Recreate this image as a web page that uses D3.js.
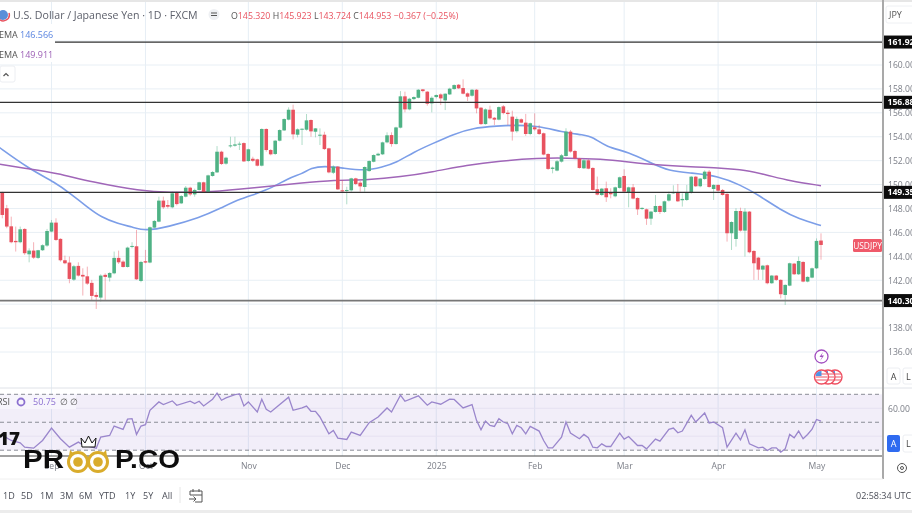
<!DOCTYPE html>
<html>
<head>
<meta charset="utf-8">
<script src="https://cdn.jsdelivr.net/npm/d3@7"></script>
<style>
html, body { margin: 0; padding: 0; background: #fff; overflow: hidden; }
svg { display: block; filter: blur(0.6px); }
text { font-family: "Open Sans", "Noto Sans", sans-serif; }
.axis path, .axis line { display: none; }
</style>
</head>
<body>
<div id="chart"></div>
<script>
const opens = [
  149.36,148.02,146.51,145.29,145.18,146.29,144.17,144.48,143.87,144.51,
  144.90,146.07,146.82,145.46,143.67,143.48,142.05,143.20,142.45,142.33,
  141.78,140.77,140.55,142.45,142.22,142.58,143.87,143.56,143.11,144.79,
  144.84,141.94,143.59,143.48,146.40,146.90,148.66,148.29,148.10,149.32,
  148.43,148.99,149.74,149.18,149.55,150.19,149.35,150.72,151.02,152.75,
  151.75,153.20,153.25,153.34,153.47,151.97,152.16,152.11,151.58,154.65,
  152.89,152.56,153.67,154.53,155.43,156.26,154.17,154.59,154.59,155.40,
  154.42,154.09,154.17,153.03,150.99,151.50,149.52,149.46,149.52,150.52,
  150.16,149.80,151.13,151.91,152.44,152.53,153.53,154.14,153.39,154.76,
  157.38,156.29,157.15,157.26,157.96,157.77,156.79,157.32,157.54,157.04,
  157.54,157.99,158.35,158.07,157.63,157.43,157.93,156.43,155.06,156.26,
  155.59,155.43,156.54,156.01,155.68,154.46,155.46,155.18,154.23,154.79,
  154.62,154.29,152.56,151.31,151.17,151.92,152.39,154.43,152.81,152.17,
  151.36,152.03,151.39,149.61,149.13,149.69,149.30,149.02,149.72,150.72,
  149.38,149.77,148.88,147.96,147.93,147.15,147.71,148.21,147.71,148.66,
  149.27,149.33,148.69,148.71,149.30,150.66,149.86,150.47,151.08,149.63,
  149.97,149.55,149.22,145.93,145.45,147.79,146.15,147.74,144.45,143.89,
  142.89,143.25,141.75,142.39,142.03,140.77,141.55,143.39,142.50,143.53,
  141.89,142.22,143.00,145.32
];
const highs = [
  149.40,148.30,147.32,146.49,146.49,146.35,144.67,145.18,144.54,145.01,
  146.29,147.04,147.18,145.51,144.06,143.98,143.28,143.50,143.00,143.14,
  142.03,141.00,142.50,142.58,142.67,144.40,144.48,143.67,144.81,145.18,
  146.21,143.62,144.54,146.49,147.04,148.99,148.99,148.71,149.41,149.41,
  149.13,149.88,149.82,149.66,150.24,150.24,150.83,151.13,153.22,152.83,
  152.33,154.00,154.00,153.59,153.53,153.00,152.33,152.16,154.70,154.70,
  152.97,153.73,154.62,155.54,156.46,156.68,154.70,154.70,155.90,155.45,
  154.73,154.70,154.42,153.08,151.61,151.55,150.38,149.82,150.57,150.57,
  150.30,151.52,152.03,152.53,152.67,153.59,154.37,154.37,154.84,157.82,
  157.77,157.26,157.38,157.99,157.99,157.82,157.38,157.54,157.63,157.63,
  158.10,158.38,158.41,158.80,157.71,157.99,157.99,156.48,156.37,156.60,
  155.65,156.54,156.65,156.23,156.18,155.68,155.54,155.91,155.18,155.96,
  154.99,154.35,152.62,151.50,152.06,152.56,154.71,154.57,152.90,152.23,
  152.12,152.12,151.45,150.67,149.72,150.25,149.69,149.83,150.67,151.28,
  149.83,150.05,148.94,148.10,147.99,147.80,149.13,148.27,148.66,149.41,
  149.94,150.05,149.27,149.97,150.72,150.72,150.55,151.19,151.22,150.02,
  150.02,149.63,149.27,146.93,148.02,148.07,148.02,147.79,144.51,143.95,
  143.28,143.31,142.44,142.44,142.08,141.66,143.47,143.45,143.98,143.59,
  142.33,143.06,145.50,145.92
];
const lows = [
  147.18,146.35,145.09,144.40,145.09,144.12,143.50,143.78,143.78,144.45,
  144.79,146.01,145.29,143.56,143.34,141.75,141.94,142.31,140.72,141.61,
  140.35,139.60,140.22,140.35,141.89,142.50,143.36,143.06,143.06,144.67,
  142.03,141.83,143.42,143.42,146.35,146.85,147.96,148.01,148.01,148.26,
  148.37,148.93,149.04,148.99,149.49,149.32,149.32,150.66,150.97,151.64,
  151.66,153.08,153.17,152.89,151.89,151.91,151.89,151.52,151.52,152.75,
  152.44,152.47,153.61,154.48,155.37,153.78,153.95,153.31,154.51,154.00,
  153.95,153.31,152.89,150.94,150.88,149.55,149.35,148.35,149.41,149.96,
  149.41,149.41,151.08,151.86,152.39,152.47,153.45,153.17,153.34,154.70,
  156.04,156.21,157.07,157.21,157.71,156.60,156.04,157.21,156.65,156.23,
  157.49,157.93,157.99,157.54,156.99,157.35,155.96,154.98,155.01,155.45,
  154.98,155.37,155.87,154.98,153.68,154.34,155.13,154.07,154.12,154.51,
  154.15,152.45,151.22,150.94,151.11,151.84,152.34,152.67,152.12,151.33,
  151.31,151.28,149.50,149.10,149.05,148.55,148.85,148.94,149.66,149.33,
  148.10,148.77,147.46,147.88,146.63,146.63,147.66,147.54,147.63,148.58,
  149.22,148.55,148.16,148.63,149.24,149.80,149.77,150.39,149.74,148.71,
  149.41,149.08,145.23,144.53,144.81,146.07,143.98,144.25,142.03,142.03,
  142.03,141.66,141.69,141.94,140.49,139.93,141.50,142.44,142.44,141.83,
  141.83,142.16,142.94,143.72
];
const closes = [
  147.46,146.49,145.18,145.18,146.26,144.26,144.48,143.89,144.51,144.93,
  146.12,146.82,145.37,143.67,143.42,142.11,143.17,142.39,142.31,141.72,
  140.69,140.61,142.39,142.28,142.61,143.87,143.50,143.11,144.73,144.87,
  142.08,143.53,143.48,146.43,146.96,148.66,148.10,148.15,149.27,148.37,
  149.04,149.74,149.18,149.55,150.19,149.35,150.77,151.05,152.75,151.72,
  152.25,153.28,153.36,153.42,151.94,152.95,151.99,151.58,154.65,152.89,
  152.53,153.67,154.56,155.48,156.26,154.20,154.62,154.67,155.37,154.45,
  154.70,154.17,152.97,151.02,151.50,149.60,149.43,149.55,150.52,150.05,
  149.85,151.47,151.97,152.47,152.58,153.53,154.12,153.39,154.78,157.38,
  156.29,157.18,157.32,157.93,157.82,156.76,157.26,157.49,157.21,157.60,
  158.02,158.32,158.05,157.60,157.35,157.93,156.37,155.06,156.29,155.54,
  155.43,156.48,155.98,155.90,154.43,155.49,155.18,154.23,155.13,154.62,
  154.23,152.51,151.31,151.42,151.95,152.45,154.43,152.76,152.20,151.39,
  152.03,151.33,149.55,149.16,149.66,148.94,149.19,149.77,150.61,149.41,
  149.77,148.83,147.93,148.05,147.15,147.74,148.21,147.71,148.60,149.19,
  149.38,148.60,148.80,149.33,150.66,149.86,150.50,151.08,149.80,149.97,
  149.49,149.13,145.93,146.87,147.79,146.15,147.74,144.34,143.42,142.89,
  143.22,141.75,142.39,142.03,140.83,141.61,143.42,142.50,143.61,141.89,
  142.28,143.00,145.29,144.95
];

// ema readings, candle index and price
const ema50Idx = [-1,6,12,15,19,22,26,29,32,37,44,49,53,59,64,67,69,72,76,81,85,88,92,96,101,105,111,114,120,125,130,132,135,140,145,149,154,160,165,169,174,178,183];
const ema50Vals = [153.2,151.31,150.14,149.30,148.13,147.29,146.71,146.46,146.12,146.46,147.21,148.05,148.80,149.47,150.55,150.89,151.39,151.56,151.39,151.14,151.47,151.81,152.73,153.40,154.23,154.73,154.90,154.98,154.90,154.40,154.15,153.98,153.14,152.73,151.81,151.14,150.97,150.72,149.97,149.13,147.88,147.13,146.57];
const ema100Idx = [-1,6,12,20,31,37,47,56,67,74,82,89,96,104,111,120,126,134,140,146,154,161,166,171,176,183];
const ema100Vals = [151.72,151.31,150.97,150.22,149.47,149.32,149.38,149.72,150.14,150.39,150.39,150.64,151.05,151.64,151.97,152.22,152.22,152.14,151.89,151.64,151.47,151.39,151.22,150.80,150.30,149.91];

const rsiIdx = [0,2,4,5,7,9,11,13,15,17,18,21,22,24,25,27,28,29,30,31,32,33,35,36,38,39,42,43,44,45,47,48,49,50,52,53,54,55,57,58,59,60,64,65,67,68,69,70,71,73,74,75,77,78,80,82,84,86,87,89,90,93,95,96,98,100,101,103,105,106,107,108,109,110,111,112,113,114,115,116,117,118,120,121,122,123,125,126,127,129,130,131,132,133,134,135,136,138,139,140,142,143,144,146,147,149,150,151,152,154,155,157,158,159,161,162,164,165,166,167,169,170,171,172,173,174,175,176,177,178,179,180,181,182,183];
const rsiVals = [40.58,36.98,35.3,32.19,31.47,36.98,45.86,38.18,32.19,35.78,33.87,31.47,39.38,40.58,47.29,44.9,52.2,52.57,41.3,47.3,48.25,58.57,64.56,62.64,65.28,62.16,65.04,63.36,65.04,61.68,66.48,70.79,65.76,67.44,69.84,70.32,61.68,64.56,57.37,66.48,59.28,57.37,67.92,58.57,60.3,61.6,57.85,57.85,53.77,41.78,44.18,38.66,37.7,42.98,40.58,49.7,53.77,60.24,57.37,69.36,65.04,68.88,62.16,64.56,62.88,66.48,66.3,60.22,62.62,51.35,44.63,50.87,47.75,47.03,52.55,50.15,48.95,41.76,47.75,46.07,41.76,47.03,43.67,36.96,31.68,31.68,39.36,50.15,42.24,38.16,41.28,38.88,32.16,31.68,34.56,32.64,32.64,42.24,37.92,39.84,33.36,33.36,30.96,37.92,36.48,44.87,45.83,42.48,43.67,54.95,50.15,56.62,49.43,50.15,46.07,32.16,42.24,37.44,44.63,34.56,31.68,32.16,29.77,31.68,31.68,28.57,30.96,41.28,38.88,43.67,38.16,41.28,45.0,52.0,50.75];

const monthIdx = [11,32,55,76,97,119,139,160,182];
const monthLabels = ["Sep","Oct","Nov","Dec","2025","Feb","Mar","Apr","May"];
const priceTicks = [136,138,142,144,146,148,150,152,154,156,158,160];
const levels = [161.92,156.88,149.35,140.30];
const rsiLevels = [70,50,30];
const ranges = ["1D","5D","1M","3M","6M","YTD","1Y","5Y","All"];

const WIDTH = 912, HEIGHT = 513;
const PANE_RIGHT = 883;
const MAIN_BOTTOM = 388, RSI_BOTTOM = 456, AXIS_BOTTOM = 479;
const UP = "#4fb285", DOWN = "#e8525f";

const x = d3.scaleLinear().domain([0, 183]).range([2.3, 821]);
const y = d3.scaleLinear().domain([136, 160]).range([352, 65]);
const yRsi = d3.scaleLinear().domain([30, 70]).range([450.2, 394.3]);

const svg = d3.select("#chart").append("svg")
  .attr("width", WIDTH)
  .attr("height", HEIGHT);

svg.append("rect").attr("width", WIDTH).attr("height", HEIGHT).attr("fill", "#fff");
svg.append("rect").attr("width", WIDTH).attr("height", 2).attr("fill", "#e6e6e6");
svg.append("rect").attr("y", 510).attr("width", WIDTH).attr("height", 3).attr("fill", "#ececec");

// grid
svg.append("g").selectAll("line")
  .data(monthIdx)
  .enter().append("line")
  .attr("x1", d => x(d)).attr("x2", d => x(d))
  .attr("y1", 2).attr("y2", RSI_BOTTOM)
  .attr("stroke", "#e6eef5");

svg.append("g").selectAll("line")
  .data(d3.range(136, 164, 2))
  .enter().append("line")
  .attr("x1", 0).attr("x2", PANE_RIGHT)
  .attr("y1", d => y(d)).attr("y2", d => y(d))
  .attr("stroke", "#e8eff5");

// rsi pane
svg.append("rect")
  .attr("x", 0).attr("width", PANE_RIGHT)
  .attr("y", yRsi(70)).attr("height", yRsi(30) - yRsi(70))
  .attr("fill", "#7e57c2").attr("opacity", 0.1);

svg.append("g").selectAll("line")
  .data([60, 40])
  .enter().append("line")
  .attr("x1", 0).attr("x2", PANE_RIGHT)
  .attr("y1", d => yRsi(d)).attr("y2", d => yRsi(d))
  .attr("stroke", "#e6e2f1");

svg.append("g").selectAll("line")
  .data(rsiLevels)
  .enter().append("line")
  .attr("x1", 0).attr("x2", PANE_RIGHT)
  .attr("y1", d => yRsi(d)).attr("y2", d => yRsi(d))
  .attr("stroke", "#8a8d96")
  .attr("stroke-dasharray", "4,3");

const rsiLine = d3.line()
  .x((d, i) => x(rsiIdx[i]))
  .y(d => yRsi(d));

svg.append("path")
  .attr("d", rsiLine(rsiVals))
  .attr("fill", "none")
  .attr("stroke", "#9a86cc")
  .attr("stroke-width", 1.3);

// ema lines, under the candles
const emaLine = idx => d3.line()
  .x((d, i) => x(idx[i]))
  .y(d => y(d))
  .curve(d3.curveBasis);

svg.append("path")
  .attr("d", emaLine(ema50Idx)(ema50Vals))
  .attr("fill", "none").attr("stroke", "#7c9ee8").attr("stroke-width", 1.6);

svg.append("path")
  .attr("d", emaLine(ema100Idx)(ema100Vals))
  .attr("fill", "none").attr("stroke", "#a066b8").attr("stroke-width", 1.5);

// candles
const candleColor = i => closes[i] >= opens[i] ? UP : DOWN;

svg.append("g").selectAll("line")
  .data(d3.range(opens.length))
  .enter().append("line")
  .attr("x1", d => x(d)).attr("x2", d => x(d))
  .attr("y1", d => y(highs[d])).attr("y2", d => y(lows[d]))
  .attr("stroke", candleColor)
  .attr("stroke-opacity", 0.45);

svg.append("g").selectAll("rect")
  .data(d3.range(opens.length))
  .enter().append("rect")
  .attr("x", d => x(d) - 1.8)
  .attr("width", 3.6)
  .attr("y", d => y(Math.max(opens[d], closes[d])))
  .attr("height", d => Math.max(1, Math.abs(y(opens[d]) - y(closes[d]))))
  .attr("fill", candleColor);

// horizontal levels
svg.append("g").selectAll("line")
  .data(levels)
  .enter().append("line")
  .attr("x1", 0).attr("x2", PANE_RIGHT)
  .attr("y1", d => y(d)).attr("y2", d => y(d))
  .attr("stroke", d => d === 140.30 ? "#777" : "#333")
  .attr("stroke-width", d => d === 140.30 ? 1.6 : 1.3);

// legend
svg.append("rect").attr("x", 0).attr("y", 24).attr("width", 55).attr("height", 38).attr("fill", "#fff");
svg.append("rect").attr("x", 0).attr("y", 66).attr("width", 15).attr("height", 16).attr("rx", 2)
  .attr("fill", "#fff").attr("stroke", "#eceef2");
svg.append("path").attr("d", "M3.5 76 L6 73.5 L8.5 76").attr("fill", "none").attr("stroke", "#555").attr("stroke-width", 1.2);

svg.append("circle").attr("cx", 3).attr("cy", 15).attr("r", 5).attr("fill", "#5b8fd9");
svg.append("path").attr("d", "M-1 19 A6 6 0 0 0 9 13").attr("fill", "none").attr("stroke", "#e8525f").attr("stroke-width", 1.5);

svg.append("text").attr("x", 13).attr("y", 19).attr("font-size", 10.6).attr("fill", "#5d606b")
  .text("U.S. Dollar / Japanese Yen · 1D · FXCM");
svg.append("circle").attr("cx", 214).attr("cy", 14.5).attr("r", 5.5).attr("fill", "#eef0f3");
svg.append("rect").attr("x", 211).attr("y", 12.5).attr("width", 6).attr("height", 1).attr("fill", "#555");
svg.append("rect").attr("x", 211).attr("y", 15).attr("width", 6).attr("height", 1).attr("fill", "#555");

const ohlc = [["O", "145.320"], ["H", "145.923"], ["L", "143.724"], ["C", "144.953"]];
const ohlcText = svg.append("text").attr("x", 231).attr("y", 18.5).attr("font-size", 8.8).attr("fill", DOWN);
ohlc.forEach(d => {
  ohlcText.append("tspan").attr("fill", "#555").text(d[0]);
  ohlcText.append("tspan").text(d[1] + " ");
});
ohlcText.append("tspan").text("−0.367 (−0.25%)");

svg.append("text").attr("x", -1).attr("y", 38).attr("font-size", 9).attr("fill", "#555").text("EMA");
svg.append("text").attr("x", 20).attr("y", 38).attr("font-size", 9).attr("fill", "#5b85e0").text("146.566");
svg.append("text").attr("x", -1).attr("y", 58).attr("font-size", 9).attr("fill", "#555").text("EMA");
svg.append("text").attr("x", 20).attr("y", 58).attr("font-size", 9).attr("fill", "#9c5fb5").text("149.911");

// pane borders
svg.append("line").attr("x1", 0).attr("x2", WIDTH).attr("y1", MAIN_BOTTOM).attr("y2", MAIN_BOTTOM).attr("stroke", "#dfe2e8");
svg.append("line").attr("x1", 0).attr("x2", PANE_RIGHT).attr("y1", RSI_BOTTOM).attr("y2", RSI_BOTTOM).attr("stroke", "#444");
svg.append("line").attr("x1", PANE_RIGHT).attr("x2", PANE_RIGHT).attr("y1", 0).attr("y2", AXIS_BOTTOM)
  .attr("stroke", "#a9a9a9").attr("stroke-width", 2);
svg.append("line").attr("x1", 0).attr("x2", PANE_RIGHT).attr("y1", AXIS_BOTTOM).attr("y2", AXIS_BOTTOM).attr("stroke", "#f0f0f0");

// axes
const priceAxis = d3.axisRight(y).tickValues(priceTicks).tickFormat(d3.format(".2f")).tickSize(0).tickPadding(0);
svg.append("g").attr("class", "axis")
  .attr("transform", "translate(888,0)")
  .call(priceAxis)
  .selectAll("text").attr("font-size", 8.6).attr("fill", "#7b7e87");

const rsiAxis = d3.axisRight(yRsi).tickValues([60]).tickFormat(d3.format(".2f")).tickSize(0).tickPadding(0);
svg.append("g").attr("class", "axis")
  .attr("transform", "translate(888,0)")
  .call(rsiAxis)
  .selectAll("text").attr("font-size", 8.6).attr("fill", "#7b7e87");

const timeAxis = d3.axisBottom(x).tickValues(monthIdx).tickFormat((d, i) => monthLabels[i]).tickSize(0).tickPadding(0);
svg.append("g").attr("class", "axis")
  .attr("transform", "translate(0,463)")
  .call(timeAxis)
  .selectAll("text").attr("font-size", 8.6).attr("fill", "#7b7e87");

// level tags on the price axis
const tags = svg.append("g").selectAll("g")
  .data(levels)
  .enter().append("g")
  .attr("transform", d => `translate(884,${y(d)})`);
tags.append("rect").attr("x", 0).attr("y", -6.5).attr("width", 28).attr("height", 13).attr("fill", "#0b0b0b");
tags.append("text").attr("x", 3.5).attr("y", 3).attr("font-size", 8.6).attr("font-weight", 700).attr("fill", "#fff")
  .text(d => d.toFixed(2));

// symbol tag
svg.append("rect").attr("x", 853).attr("y", 239).attr("width", 29).attr("height", 13).attr("rx", 1.5).attr("fill", "#ef5a6a");
svg.append("text").attr("x", 867.5).attr("y", 248.5).attr("text-anchor", "middle").attr("font-size", 8.4).attr("fill", "#fff").text("USDJPY");

// right column buttons
svg.append("rect").attr("x", 886).attr("y", 6).attr("width", 30).attr("height", 17).attr("rx", 2).attr("fill", "#fff").attr("stroke", "#eef0f3");
svg.append("text").attr("x", 889).attr("y", 18).attr("font-size", 9).attr("fill", "#555").text("JPY");
svg.append("rect").attr("x", 887).attr("y", 368).attr("width", 13).attr("height", 16).attr("rx", 2).attr("fill", "#fff").attr("stroke", "#eceef2");
svg.append("text").attr("x", 893.5).attr("y", 380).attr("text-anchor", "middle").attr("font-size", 9).attr("fill", "#444").text("A");
svg.append("rect").attr("x", 903).attr("y", 368).attr("width", 13).attr("height", 16).attr("rx", 2).attr("fill", "#fff").attr("stroke", "#eceef2");
svg.append("text").attr("x", 906).attr("y", 380).attr("font-size", 9).attr("fill", "#444").text("L");
svg.append("rect").attr("x", 887).attr("y", 435).attr("width", 13).attr("height", 17).attr("rx", 2).attr("fill", "#2f6bf0");
svg.append("text").attr("x", 893.5).attr("y", 447).attr("text-anchor", "middle").attr("font-size", 9).attr("fill", "#fff").text("A");
svg.append("rect").attr("x", 903).attr("y", 435).attr("width", 13).attr("height", 17).attr("rx", 2).attr("fill", "#fff").attr("stroke", "#eceef2");
svg.append("text").attr("x", 906).attr("y", 447).attr("font-size", 9).attr("fill", "#444").text("L");
svg.append("circle").attr("cx", 902).attr("cy", 468).attr("r", 4.5).attr("fill", "none").attr("stroke", "#555");
svg.append("circle").attr("cx", 902).attr("cy", 468).attr("r", 1.5).attr("fill", "none").attr("stroke", "#555");

// event badges
svg.append("circle").attr("cx", 821.5).attr("cy", 356.5).attr("r", 6.5).attr("fill", "#fff").attr("stroke", "#a24fc0").attr("stroke-width", 1.3);
svg.append("path").attr("d", "M823 352 L819.5 357 L822 357 L820 361 L824 355.5 L821.5 355.5 Z").attr("fill", "#a24fc0");
[835, 828, 821.5].forEach(cx => {
  const flag = svg.append("g");
  flag.append("circle").attr("cx", cx).attr("cy", 377).attr("r", 7).attr("fill", "#fff").attr("stroke", "#ee4d5f").attr("stroke-width", 1.4);
  [374, 377, 380].forEach(ly => flag.append("line").attr("x1", cx - 6).attr("x2", cx + 6).attr("y1", ly).attr("y2", ly).attr("stroke", "#ee7280").attr("stroke-width", 1.2));
  flag.append("path").attr("d", `M${cx - 6} 376 A6 6 0 0 1 ${cx} 371 L${cx} 376 Z`).attr("fill", "#4f93e6");
});

// rsi legend
svg.append("rect").attr("x", 0).attr("y", 395).attr("width", 76).attr("height", 14).attr("fill", "#f7f5fc");
svg.append("text").attr("x", -3).attr("y", 405).attr("font-size", 9).attr("fill", "#555").text("RSI");
svg.append("circle").attr("cx", 21).attr("cy", 402).attr("r", 3.5).attr("fill", "none").attr("stroke", "#8b6fd0").attr("stroke-width", 1.8);
svg.append("text").attr("x", 33).attr("y", 405).attr("font-size", 9).attr("fill", "#8b6fd0").text("50.75");
svg.append("text").attr("x", 60).attr("y", 405).attr("font-size", 9).attr("fill", "#555").text("∅ ∅");

// watermark
svg.append("text").attr("x", -2).attr("y", 445).attr("font-size", 17).attr("font-weight", 800)
  .attr("textLength", 22).attr("lengthAdjust", "spacingAndGlyphs").attr("fill", "#111").text("17");
const mark = svg.append("g");
mark.append("text").attr("x", 23).attr("y", 468).attr("font-size", 25).attr("font-weight", 700)
  .attr("style", "font-family:'Liberation Sans',sans-serif").attr("fill", "#0d0d0d")
  .attr("textLength", 41).attr("lengthAdjust", "spacingAndGlyphs").text("PR");
mark.append("text").attr("x", 115).attr("y", 468).attr("font-size", 25).attr("font-weight", 700)
  .attr("style", "font-family:'Liberation Sans',sans-serif").attr("fill", "#0d0d0d")
  .attr("textLength", 65).attr("lengthAdjust", "spacingAndGlyphs").text("P.CO");
mark.append("path").attr("d", "M70 450 L74 454 L84 454 L88 458 L92 454 L102 454 L106 450 L108 462 L68 462 Z").attr("fill", "#d9ac2b");
[78, 98].forEach(cx => {
  mark.append("circle").attr("cx", cx).attr("cy", 462).attr("r", 9.5).attr("fill", "#fff").attr("stroke", "#d9ac2b").attr("stroke-width", 3);
  mark.append("circle").attr("cx", cx).attr("cy", 462).attr("r", 4.8).attr("fill", "#d9ac2b");
});
mark.append("path").attr("d", "M82 447 L81 438 L85 443 L88.5 436 L92 443 L96 438 L95 447 Z")
  .attr("fill", "#fff").attr("stroke", "#111").attr("stroke-width", 1);

// bottom toolbar
svg.append("g").selectAll("text")
  .data(ranges)
  .enter().append("text")
  .attr("x", (d, i) => [3, 21, 40, 60, 79, 99, 125, 143, 162][i])
  .attr("y", 499)
  .attr("font-size", 9)
  .attr("fill", "#4a4d57")
  .text(d => d);
svg.append("line").attr("x1", 180).attr("x2", 180).attr("y1", 487).attr("y2", 503).attr("stroke", "#e6e6e6");
svg.append("path").attr("d", "M190 491 H202 V502 H195 M190 491 V495 H202 M193 489 V492 M199 489 V492 M189 499 H196 M193.5 496.5 L196 499 L193.5 501.5")
  .attr("fill", "none").attr("stroke", "#555");
svg.append("text").attr("x", 856).attr("y", 499).attr("font-size", 9).attr("fill", "#4a4d57").text("02:58:34 UTC");
</script>
</body>
</html>
